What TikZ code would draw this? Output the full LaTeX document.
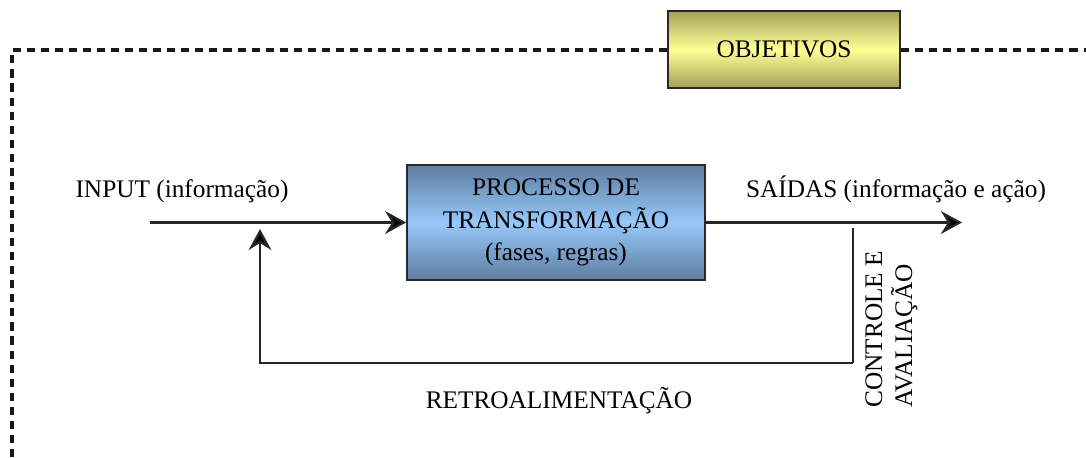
\documentclass[tikz,border=0pt]{standalone}
\usepackage{fontspec}
\setmainfont{Liberation Serif}
\usepackage{tikz}
\usepackage{xcolor}
\usetikzlibrary{arrows.meta, positioning}

\definecolor{objdark}{RGB}{165,160,85}
\definecolor{objlight}{RGB}{255,255,150}
\definecolor{procdark}{RGB}{95,125,160}
\definecolor{proclight}{RGB}{150,200,250}
\definecolor{edgegray}{RGB}{40,40,40}

\tikzset{
  lbl/.style={inner sep=0pt, font=\fontsize{14.4}{18.4}\selectfont},
  flow/.style={line width=1.3pt, draw=black!85, -{Stealth[length=12pt,width=13pt,inset=4pt,fill=black]}},
  plain/.style={line width=1.3pt, draw=black!85},
  frame/.style={line width=1.8pt, draw=black!90, dash pattern=on 4.6pt off 3.4pt}
}

\begin{document}
\begin{tikzpicture}[x=0.02cm,y=-0.02cm]
  \useasboundingbox (0,0) rectangle (1086,457);
  % goals box
  \node[draw=edgegray, line width=0.9pt, minimum width=232*0.02cm, minimum height=77*0.02cm,
        top color=objdark, bottom color=objdark, middle color=objlight, lbl] (obj) at (784,49.5) {OBJETIVOS};
  % dashed frame
  \coordinate (fbl) at (12,457);
  \coordinate (ftl) at (12,50);
  \coordinate (ftr) at (1086,50);
  \draw[frame] (fbl) -- (ftl) -- (obj.west |- ftl);
  \draw[frame] (obj.east |- ftr) -- (ftr);
  % process box
  \node[draw=edgegray, line width=0.9pt, minimum width=298*0.02cm, minimum height=115*0.02cm,
        top color=procdark, bottom color=procdark, middle color=proclight, lbl, align=center] (proc) at (556,222.5)
        {PROCESSO DE\\TRANSFORMAÇÃO\\(fases, regras)};
  % input and output
  \coordinate (in) at (150,222.5);
  \coordinate (out) at (962,222.5);
  \draw[flow] (in) -- (proc.west);
  \draw[flow] (proc.east) -- (out);
  \node[lbl, anchor=base] (inlbl) at (182,197) {INPUT (informação)};
  \node[lbl, anchor=base] (outlbl) at (896,197) {SAÍDAS (informação e ação)};
  % feedback loop
  \coordinate (tap) at (853,228);
  \coordinate (low) at (853,363);
  \coordinate (ret) at (260,229);
  \draw[plain] (tap) -- (low);
  \draw[flow] (low) -| (ret);
  \node[lbl, anchor=base] (fblbl) at (559,408) {RETROALIMENTAÇÃO};
  \node[lbl, rotate=90, anchor=base west] (ctllbl) at (882,408) {CONTROLE E};
  \node[lbl, rotate=90, anchor=base west] (avallbl) at (912,408) {AVALIAÇÃO};
\end{tikzpicture}
\end{document}
